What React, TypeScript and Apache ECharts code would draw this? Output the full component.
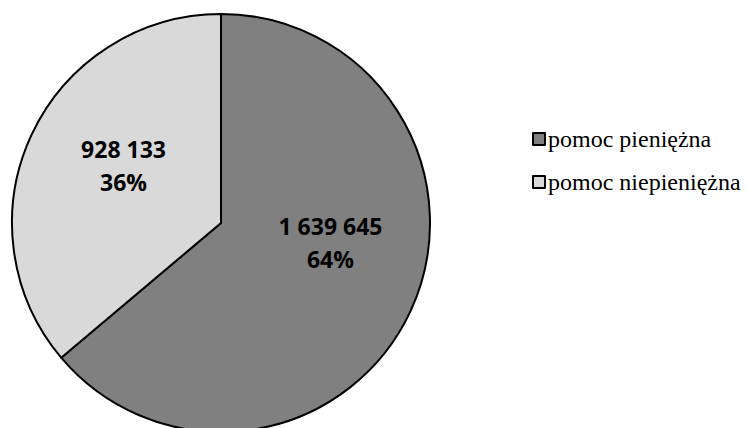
import React, { useEffect, useRef } from "react";
import * as echarts from "echarts";

const categories = ["pomoc pieniężna", "pomoc niepieniężna"];
const values = [1639645, 928133];
const colors = ["#808080", "#d9d9d9"];
const labelShift = [
  { dx: 12, dy: -26 },
  { dx: 0, dy: -12 },
];

function fmt(n: number): string {
  return String(n).replace(/\B(?=(\d{3})+(?!\d))/g, " ");
}

export default function App() {
  const ref = useRef<HTMLDivElement>(null);
  useEffect(() => {
    if (!ref.current) return;
    const chart = echarts.init(ref.current, undefined, { renderer: "svg" });
    const total = values.reduce((a, b) => a + b, 0);
    chart.setOption({
      animation: false,
      backgroundColor: "#ffffff",
      legend: {
        orient: "vertical",
        left: 527,
        top: 122,
        itemWidth: 12,
        itemHeight: 12,
        itemGap: 19,
        icon: "rect",
        textStyle: {
          fontFamily: "Liberation Serif",
          fontSize: 24,
          color: "#000",
          padding: [0, 0, 0, -2],
        },
        data: categories,
      },
      series: [
        {
          type: "pie",
          center: [221, 223],
          radius: 209,
          startAngle: 90,
          clockwise: true,
          silent: true,
          itemStyle: { borderColor: "#000", borderWidth: 2 },
          label: {
            position: "inside",
            fontFamily: "Open Sans",
            fontWeight: "bold",
            fontSize: 23,
            lineHeight: 33,
            color: "#000",
            formatter: (p: any) => fmt(p.value) + "\n" + Math.round((p.value / total) * 100) + "%",
          },
          labelLayout: (p: any) => labelShift[p.dataIndex],
          data: categories.map((c, i) => ({ name: c, value: values[i], itemStyle: { color: colors[i] } })),
        },
      ],
    });
    return () => chart.dispose();
  }, []);
  return <div ref={ref} style={{ position: "absolute", left: 0, top: 0, width: 747, height: 428 }} />;
}
